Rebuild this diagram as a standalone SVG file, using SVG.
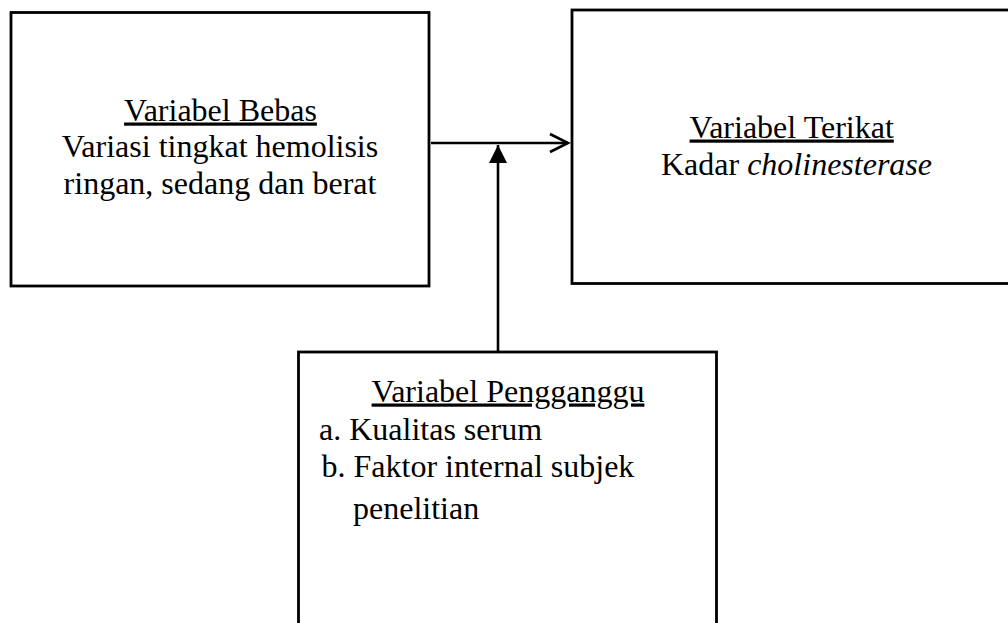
<svg xmlns="http://www.w3.org/2000/svg" width="1008" height="623" viewBox="0 0 1008 623">
<style>
.box{fill:#fff;stroke:#000;stroke-width:2.8}
.t{font-family:"Liberation Serif","Times New Roman",serif;font-size:32px;fill:#000}
.m{text-anchor:middle}
.u{text-decoration:underline}
.c{stroke:#000;stroke-width:2.6;fill:none}
</style>
<defs>
<marker id="open" markerUnits="userSpaceOnUse" markerWidth="24" markerHeight="24" refX="20" refY="10" orient="auto" viewBox="0 0 24 20">
<path d="M2,1 L20,10 L2,19" fill="none" stroke="#000" stroke-width="2.6"/>
</marker>
<marker id="fill" markerUnits="userSpaceOnUse" markerWidth="18" markerHeight="18" refX="16" refY="8" orient="auto" viewBox="0 0 16 16">
<path d="M0,0 L16,8 L0,16 Z" fill="#000"/>
</marker>
</defs>
<rect width="1008" height="623" fill="#fff"/>
<g id="connectors">
<line class="c" x1="431" y1="143" x2="568" y2="143" marker-end="url(#open)"/>
<line class="c" x1="498" y1="351" x2="498" y2="145" marker-end="url(#fill)"/>
</g>
<g id="bebas">
<rect class="box" x="11" y="12.5" width="418" height="273.5"/>
<text class="t m u" x="220.5" y="120.5">Variabel Bebas</text>
<text class="t m" x="220" y="157">Variasi tingkat hemolisis</text>
<text class="t m" x="220" y="193.5">ringan, sedang dan berat</text>
</g>
<g id="terikat">
<rect class="box" x="572" y="10" width="445" height="273.5"/>
<text class="t m u" x="791.7" y="137.5">Variabel Terikat</text>
<text class="t m" x="796.5" y="175">Kadar <tspan font-style="italic">cholinesterase</tspan></text>
</g>
<g id="pengganggu">
<rect class="box" x="298.5" y="352" width="418" height="290"/>
<text class="t m u" x="508" y="401.5">Variabel Pengganggu</text>
<text class="t" x="319" y="440">a. Kualitas serum</text>
<text class="t" x="321.5" y="476.5">b. Faktor internal subjek</text>
<text class="t" x="353" y="518.5">penelitian</text>
</g>
</svg>
